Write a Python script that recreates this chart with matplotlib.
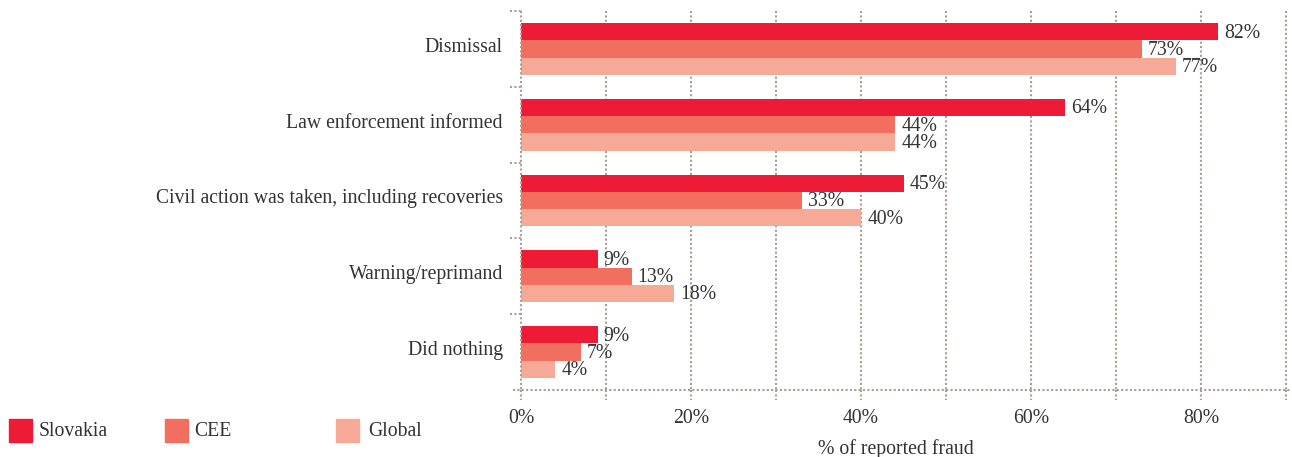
import numpy as np
import matplotlib
matplotlib.use("Agg")
import matplotlib.pyplot as plt
from matplotlib.patches import Rectangle
import matplotlib.transforms as mtransforms

# responses to fraud, share of reported cases
actions = ["Dismissal", "Law enforcement informed",
           "Civil action was taken, including recoveries",
           "Warning/reprimand", "Did nothing"]
slovakia = [82, 64, 45, 9, 9]
cee = [73, 44, 33, 13, 7]
global_ = [77, 44, 40, 18, 4]
series_names = ["Slovakia", "CEE", "Global"]
xticks = [0, 20, 40, 60, 80]

colors = ["#ED1B36", "#F26E5F", "#F7A997"]
grid_col = "#A89E95"
text_col = "#333333"
dotted = (0, (1, 1.1))
fs = 14.2

plt.rcParams["font.family"] = ["Liberation Serif", "DejaVu Serif"]
plt.rcParams["font.size"] = fs
plt.rcParams["text.color"] = text_col

W, H = 1292, 457
fig = plt.figure(figsize=(W / 100, H / 100), dpi=100)
ax = fig.add_axes([521 / W, 1 - 390 / H, (1286 - 521) / W, (390 - 11) / H])

y = np.arange(len(actions))
h = 0.228
for k, (vals, col) in enumerate(zip([slovakia, cee, global_], colors)):
    pos = y + (k - 1) * h
    ax.barh(pos, vals, height=h, color=col, zorder=2)
    for p, v in zip(pos, vals):
        ax.annotate(f"{v}%", (v, p), xytext=(4.5, -1), textcoords="offset points",
                    va="center", ha="left", fontsize=fs, color=text_col, zorder=4)

ax.set_xlim(0, 90)
ax.set_ylim(len(actions) - 0.5, -0.5)
for s in ax.spines.values():
    s.set_visible(False)

# dotted grid, left edge drawn over the bars
for x in range(0, 91, 10):
    ax.plot([x, x], [-0.5, len(actions) - 0.5], color=grid_col, lw=1.5,
            ls=dotted, zorder=5 if x == 0 else 1, clip_on=False)

# bottom axis line and ticks
xt = mtransforms.blended_transform_factory(ax.transData, ax.transAxes)
ax.plot([-1.0, 90.5], [0, 0], transform=xt, color=grid_col, lw=1.5, ls=dotted, clip_on=False)
for x in range(0, 91, 10):
    ax.plot([x, x], [0, -0.027], transform=xt, color=grid_col, lw=1.5, ls=dotted, clip_on=False)

# short ticks between groups on the left
yt = mtransforms.blended_transform_factory(ax.transAxes, ax.transData)
for b in np.arange(-0.5, len(actions) - 1, 1.0):
    ax.plot([-0.014, 0], [b, b], transform=yt, color=grid_col, lw=1.5, ls=dotted, clip_on=False)

ax.set_yticks(y)
ax.set_yticklabels(actions)
ax.set_xticks(xticks)
ax.set_xticklabels([f"{t}%" for t in xticks])
ax.tick_params(axis="y", length=0, pad=13, labelsize=fs, labelcolor=text_col)
ax.tick_params(axis="x", length=0, pad=14, labelsize=fs, labelcolor=text_col)

# category names sit a little above the group centre
shift = mtransforms.ScaledTranslation(0, 4 / 100, fig.dpi_scale_trans)
for lab in ax.get_yticklabels():
    lab.set_transform(lab.get_transform() + shift)

fig.text(896 / W, 1 - 449 / H, "% of reported fraud", ha="center", va="center",
         fontsize=fs, color=text_col)

# legend
for x0, tx, name, col in zip([9, 165, 336], [39, 194, 368], series_names, colors):
    fig.patches.append(Rectangle((x0 / W, 1 - 442 / H), 23 / W, 23 / H,
                                 transform=fig.transFigure, color=col, figure=fig))
    fig.text(tx / W, 1 - 431 / H, name, ha="left", va="center", fontsize=fs, color=text_col)

fig.savefig("out.png", dpi=100)
